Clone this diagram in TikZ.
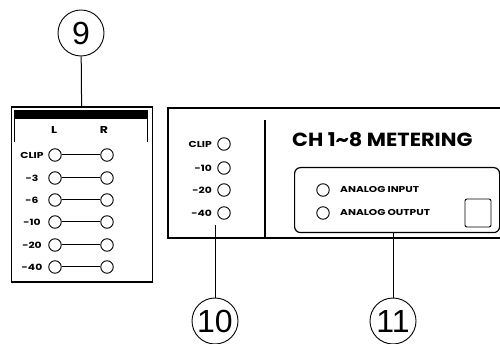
\documentclass[tikz,border=0pt]{standalone}
\usepackage{fontspec}
\setmainfont{Poppins}
\newfontfamily\widelbl{Poppins}[FakeStretch=1.25]
\newfontfamily\widetitle{Poppins}[FakeStretch=1.1]
\newfontfamily\numfont{Liberation Sans}
\begin{document}
\begin{tikzpicture}[x=1pt,y=-1pt,
  box/.style={draw, line width=1.2pt},
  led/.style={circle, draw, line width=0.9pt, minimum size=12.5pt, inner sep=0pt},
  lbl/.style={font=\widelbl\bfseries\fontsize{8.6}{9}\selectfont, inner sep=0pt},
  albl/.style={font=\widelbl\bfseries\fontsize{8.5}{9}\selectfont, inner sep=0pt, anchor=west},
  hdr/.style={font=\widelbl\bfseries\fontsize{10}{10}\selectfont, inner sep=0pt},
  callout/.style={circle, draw, line width=0.9pt, minimum size=46pt, inner sep=0pt, font=\numfont\fontsize{32}{32}\selectfont},
  wire/.style={line width=1pt}]
\useasboundingbox (0,0) rectangle (500,344);

% left panel
\node[box, minimum width=141pt, minimum height=175pt, anchor=north west, inner sep=0pt] (lbox) at (10.5,106.5) {};
\fill (14,110) rectangle (148,119);
\draw[line width=1.8pt] (14.5,110) -- (14.5,142);
\draw[line width=1.8pt] (147.5,110) -- (147.5,142);
\node[hdr] (hL) at (54,130) {L};
\node[hdr] (hR) at (104,130) {R};
\foreach \t/\y/\n in {CLIP/155/a, -3/178/b, -6/200/c, -10/222/d, -20/245/e, -40/267/f}{
  \node[led] (l\n) at (55,\y) {};
  \node[led] (r\n) at (107,\y) {};
  \draw[wire] (l\n) -- (r\n);
  \node[lbl] (t\n) at (32,\y) {\t};
}

% right panel
\draw[box] (501,108) -- (168,108) -- (168,238) -- (501,238);
\draw[box] (265,120) -- (265,238);
\foreach \t/\y/\n in {CLIP/144/a, -10/168/b, -20/190/c, -40/213/d}{
  \node[led] (m\n) at (224,\y) {};
  \node[lbl, anchor=east] (u\n) at (212,\y) {\t};
}
\node[font=\widetitle\bfseries\fontsize{19}{19}\selectfont, anchor=west, inner sep=0pt] (title) at (292,140) {CH 1\textasciitilde 8 METERING};
\node[draw, line width=1.2pt, rounded corners=6pt, minimum width=205pt, minimum height=65pt, anchor=north west, inner sep=0pt] (panel) at (294,167) {};
\node[led] (ain) at (323,190) {};
\node[led] (aout) at (323,213) {};
\node[albl] (tin) at (340,190) {ANALOG INPUT};
\node[albl] (tout) at (340,213) {ANALOG OUTPUT};
\node[draw, rounded corners=2pt, line width=0.9pt, minimum width=26pt, minimum height=28pt, inner sep=0pt] (btn) at (478,213) {};

% callouts
\node[callout] (c9) at (81,33) {9};
\node[callout] (c10) at (215,321) {10};
\node[callout] (c11) at (393,321) {11};
\coordinate (m10) at (215,225);
\draw[wire] (c9) -- (lbox.north);
\draw[wire] (c10) -- (m10);
\draw[wire] (c11) -- (c11 |- panel.south);
\end{tikzpicture}
\end{document}
